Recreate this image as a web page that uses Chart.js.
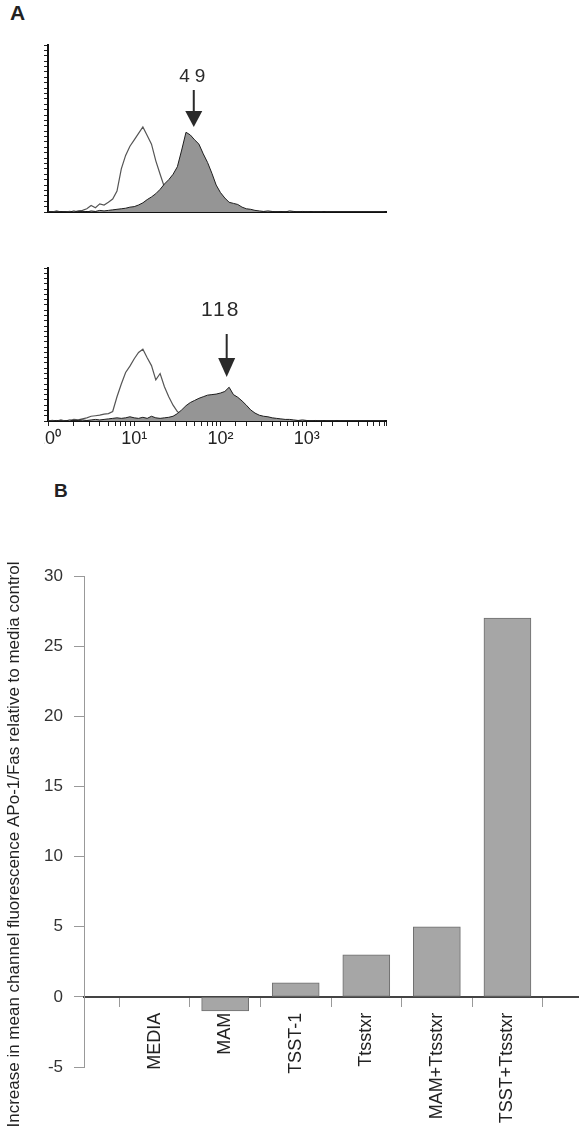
<!DOCTYPE html>
<html>
<head>
<meta charset="utf-8">
<script src="https://cdn.jsdelivr.net/npm/chart.js@4.4.0/dist/chart.umd.min.js"></script>
<style>
  html, body { margin: 0; padding: 0; background: #fff; }
  body { width: 579px; height: 1132px; position: relative; overflow: hidden; font-family: 'Liberation Sans', Arial, sans-serif; }
  .panel { position: absolute; font-weight: bold; color: #222; }
  .box { position: absolute; }
</style>
</head>
<body>
<div class="panel" style="left:10px; top:1px; font-size:21px;">A</div>
<div class="box" style="left:0; top:0; width:400px; height:230px;"><canvas id="histTop"></canvas></div>
<div class="box" style="left:44px; top:240px; width:356px; height:220px;"><canvas id="histBottom"></canvas></div>
<div class="panel" style="left:54px; top:480px; font-size:19px;">B</div>
<div class="box" style="left:0; top:470px; width:579px; height:662px;"><canvas id="bars"></canvas></div>

<script>
// histogram channels, in decades (10^x)
const channelExp = [
  0.00,0.05,0.10,0.15,0.20,0.25,0.30,0.35,0.40,0.45,
  0.50,0.55,0.60,0.65,0.70,0.75,0.80,0.85,0.90,0.95,
  1.00,1.05,1.10,1.15,1.20,1.25,1.30,1.35,1.40,1.45,
  1.50,1.55,1.60,1.65,1.70,1.75,1.80,1.85,1.90,1.95,
  2.00,2.05,2.10,2.15,2.20,2.25,2.30,2.35,2.40,2.45,
  2.50,2.55,2.60,2.65,2.70,2.75,2.80,2.85,2.90,2.95,
  3.00,3.05,3.10,3.15,3.20,3.25,3.30,3.35,3.40,3.45,
  3.50,3.55,3.60,3.65,3.70,3.75,3.80,3.85,3.90
];
const logTickLabels = ['10\u2070', '10\u00b9', '10\u00b2', '10\u00b3'];

// top histogram (counts)
const topControl = [
  0, 0, 0.2, 0, 0, 0.1, 0, 0.2, 0.3, 0.6,
  1.2, 0.8, 1.5, 1.3, 1.8, 2.4, 3.9, 8.0, 10.5, 12.2,
  13.4, 14.6, 15.8, 14.2, 12.6, 9.5, 7.0, 4.6, 3.0, 1.9,
  1.2, 0.8, 0.5, 0.3, 0.2, 0.1, 0, 0, 0, 0,
  0, 0, 0, 0, 0, 0, 0, 0, 0, 0,
  0, 0, 0, 0, 0, 0, 0, 0, 0, 0,
  0, 0, 0, 0, 0, 0, 0, 0, 0, 0,
  0, 0, 0, 0, 0, 0, 0, 0, 0
];
const topStained = [
  0.1, 0, 0, 0.1, 0, 0, 0.2, 0, 0.1, 0,
  0.2, 0.1, 0.3, 0.2, 0.3, 0.4, 0.5, 0.6, 0.7, 0.9,
  1.0, 1.3, 1.7, 2.3, 2.8, 3.4, 4.2, 5.2, 6.0, 7.0,
  8.4, 11.5, 14.8, 14.3, 13.4, 12.6, 10.8, 9.2, 7.2, 5.0,
  3.6, 2.6, 1.8, 1.6, 1.4, 0.9, 0.6, 0.5, 0.3, 0.2,
  0.1, 0.2, 0.1, 0, 0.1, 0, 0.2, 0.1, 0, 0.1,
  0, 0.1, 0, 0, 0.1, 0, 0, 0, 0, 0,
  0, 0, 0, 0, 0, 0, 0, 0, 0
];

// bottom histogram (counts)
const bottomControl = [
  0, 0.1, 0, 0.2, 0, 0.1, 0.3, 0.2, 0.4, 0.6,
  0.9, 1.0, 1.1, 1.3, 1.4, 1.8, 4.6, 7.0, 9.2, 10.4,
  11.8, 13.0, 13.6, 12.0, 10.5, 7.8, 9.0, 6.5, 4.6, 3.0,
  1.8, 1.1, 0.6, 0.3, 0.2, 0.1, 0, 0, 0, 0,
  0, 0, 0, 0, 0, 0, 0, 0, 0, 0,
  0, 0, 0, 0, 0, 0, 0, 0, 0, 0,
  0, 0, 0, 0, 0, 0, 0, 0, 0, 0,
  0, 0, 0, 0, 0, 0, 0, 0, 0
];
const bottomStained = [
  0, 0, 0.1, 0, 0, 0.2, 0, 0.1, 0.2, 0.1,
  0.2, 0.3, 0.2, 0.3, 0.4, 0.5, 0.6, 0.5, 0.6, 0.8,
  0.6, 0.5, 0.7, 0.5, 0.9, 0.6, 0.5, 0.6, 0.7, 0.9,
  1.4, 2.1, 2.9, 3.5, 3.9, 4.3, 4.6, 4.9, 5.0, 5.1,
  5.3, 5.6, 6.4, 5.0, 4.5, 3.8, 3.0, 2.1, 1.5, 1.1,
  0.9, 0.8, 0.6, 0.5, 0.4, 0.3, 0.3, 0.2, 0.1, 0.2,
  0.1, 0, 0.1, 0, 0.1, 0, 0, 0.1, 0, 0,
  0, 0, 0, 0, 0, 0, 0, 0, 0
];

// mean channel of the stained peak
const peakValues = [49, 118];

// panel B
const categories = ['MEDIA', 'MAM', 'TSST-1', 'Ttsstxr', 'MAM+Ttsstxr', 'TSST+Ttsstxr'];
const increase = [0, -1, 1, 3, 5, 27];
const yTitle = 'Increase in mean channel fluorescence APo-1/Fas relative to media control';

Chart.defaults.font.family = "'Liberation Sans', Arial, sans-serif";
Chart.defaults.color = '#222';

const toPoints = arr => channelExp.map((e, i) => ({ x: Math.pow(10, e), y: arr[i] }));

// arrow + number above the stained peak
const peakArrow = {
  id: 'peakArrow',
  afterDatasetsDraw(chart, args, o) {
    const ctx = chart.ctx;
    const px = chart.scales.x.getPixelForValue(o.value);
    ctx.save();
    ctx.strokeStyle = '#2a2a2a';
    ctx.fillStyle = '#2a2a2a';
    ctx.lineWidth = 2;
    ctx.beginPath();
    ctx.moveTo(px, o.shaftTop);
    ctx.lineTo(px, o.headTop + 1);
    ctx.stroke();
    ctx.beginPath();
    ctx.moveTo(px - 8.5, o.headTop);
    ctx.lineTo(px + 8.5, o.headTop);
    ctx.lineTo(px, o.headBottom);
    ctx.closePath();
    ctx.fill();
    ctx.font = o.fontSize + "px 'Liberation Sans', Arial, sans-serif";
    if ('letterSpacing' in ctx) ctx.letterSpacing = o.spacing;
    ctx.textAlign = 'center';
    ctx.textBaseline = 'middle';
    ctx.fillText(String(o.value), px + o.textDx, o.textY);
    ctx.restore();
  }
};

// rotated y title, placed a bit lower than the axis middle like the original
const sideTitle = {
  id: 'sideTitle',
  afterDraw(chart, args, o) {
    const ctx = chart.ctx;
    const y = chart.scales.y;
    const mid = (y.top + y.bottom) / 2 + o.shift;
    ctx.save();
    ctx.translate(o.x, mid);
    ctx.rotate(-Math.PI / 2);
    ctx.font = o.fontSize + "px 'Liberation Sans', Arial, sans-serif";
    ctx.fillStyle = '#222';
    ctx.textAlign = 'center';
    ctx.textBaseline = 'middle';
    ctx.fillText(o.text, 0, 0);
    ctx.restore();
  }
};

function histOptions(yMax, showTicks, arrow, pad, yWidth, xHeight) {
  return {
    responsive: true,
    maintainAspectRatio: false,
    animation: false,
    layout: { padding: pad },
    plugins: { legend: { display: false }, tooltip: { enabled: false }, peakArrow: arrow },
    elements: { point: { radius: 0 }, line: { tension: 0 } },
    scales: {
      x: {
        type: 'logarithmic',
        min: 1,
        max: 8300,
        border: { display: true, color: '#111', width: 2 },
        grid: { display: showTicks, drawOnChartArea: false, drawTicks: showTicks, tickLength: 5, color: '#222' },
        ticks: {
          display: showTicks,
          autoSkip: false,
          maxRotation: 0,
          padding: 2,
          font: { size: 18 },
          color: '#222',
          callback: v => {
            const e = Math.log10(v);
            return Math.abs(e - Math.round(e)) < 1e-9 && logTickLabels[Math.round(e)] ? logTickLabels[Math.round(e)] : '';
          }
        },
        afterFit: s => { s.height = xHeight; s.paddingLeft = 0; s.paddingRight = 0; }
      },
      y: {
        min: 0,
        max: yMax,
        border: { display: true, color: '#111', width: 2 },
        grid: { drawOnChartArea: false, tickLength: 4, color: '#222' },
        ticks: { display: false, stepSize: 1, maxTicksLimit: 60, autoSkip: false },
        afterFit: s => { s.width = yWidth; }
      }
    }
  };
}

function histData(stained, control) {
  return {
    datasets: [
      { data: toPoints(stained), fill: 'origin', backgroundColor: '#959595', borderColor: '#1e1e1e', borderWidth: 1 },
      { data: toPoints(control), fill: false, borderColor: '#555', borderWidth: 1.2 }
    ]
  };
}

new Chart(document.getElementById('histTop'), {
  type: 'line',
  data: histData(topStained, topControl),
  options: histOptions(31, false,
    { value: peakValues[0], shaftTop: 90, headTop: 111, headBottom: 127, textY: 77, textDx: 1, spacing: '5px', fontSize: 19 },
    { left: 0, top: 45, right: 14, bottom: 18 }, 48, 0),
  plugins: [peakArrow]
});

new Chart(document.getElementById('histBottom'), {
  type: 'line',
  data: histData(bottomStained, bottomControl),
  options: histOptions(29, true,
    { value: peakValues[1], shaftTop: 94, headTop: 118, headBottom: 137, textY: 70, textDx: -6, spacing: '2px', fontSize: 21 },
    { left: 0, top: 28, right: 14, bottom: 0 }, 4, 39),
  plugins: [peakArrow]
});

// panel B bar chart: empty slots at both ends so bars sit on ticks
const barLabels = [''].concat(categories, ['']);
const barValues = [null].concat(increase, [null]);

new Chart(document.getElementById('bars'), {
  type: 'bar',
  data: {
    labels: barLabels,
    datasets: [{
      data: barValues,
      backgroundColor: '#a6a6a6',
      borderColor: '#6e6e6e',
      borderWidth: 1,
      borderSkipped: false,
      barThickness: 47
    }]
  },
  options: {
    responsive: true,
    maintainAspectRatio: false,
    animation: false,
    layout: { padding: { left: 0, top: 106, right: 1, bottom: 65 } },
    plugins: {
      legend: { display: false },
      tooltip: { enabled: false },
      sideTitle: { text: yTitle, x: 14, shift: 23, fontSize: 17 }
    },
    scales: {
      x: {
        type: 'category',
        position: { y: 0 },
        offset: false,
        border: { color: '#444', width: 2 },
        grid: { drawOnChartArea: false, tickLength: 9, color: '#999' },
        ticks: { autoSkip: false, minRotation: 90, maxRotation: 90, padding: 7, font: { size: 18 }, color: '#222' },
        afterFit: s => { s.paddingLeft = 0; s.paddingRight = 0; }
      },
      y: {
        min: -5,
        max: 30,
        border: { color: '#999', width: 1 },
        grid: { drawOnChartArea: false, tickLength: 10, color: '#999' },
        ticks: { stepSize: 5, padding: 11, font: { size: 17 }, color: '#333' },
        afterFit: s => { s.width = 84; }
      }
    }
  },
  plugins: [sideTitle]
});
</script>
</body>
</html>
